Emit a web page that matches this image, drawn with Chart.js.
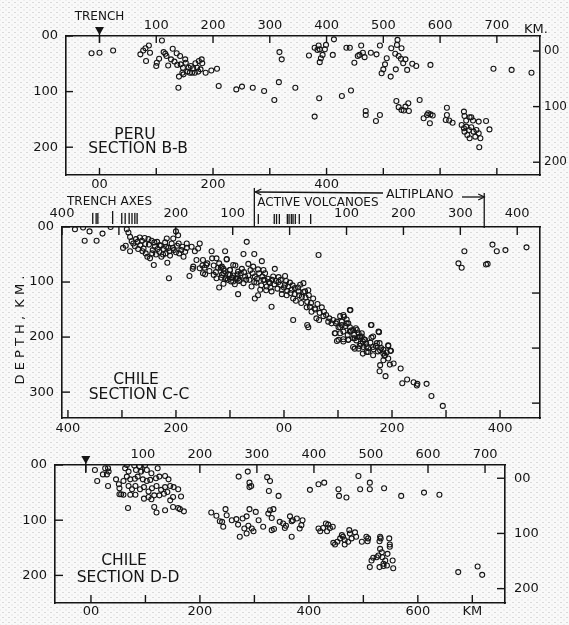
<!DOCTYPE html>
<html>
<head>
<meta charset="utf-8">
<script src="https://cdn.jsdelivr.net/npm/chart.js@4.4.1/dist/chart.umd.min.js"></script>
<style>
  html, body { margin: 0; padding: 0; }
  body {
    width: 569px; height: 625px; position: relative; overflow: hidden;
    background-color: #f9f9f9;
    background-image:
      radial-gradient(circle, #dadada 0.6px, transparent 0.9px),
      radial-gradient(circle, #e2e2e2 0.5px, transparent 0.8px);
    background-size: 6px 5px, 6px 5px;
    background-position: 0 0, 3px 2.5px;
  }
  canvas { position: absolute; left: 0; top: 0; }
</style>
</head>
<body>
<canvas id="peru" width="569" height="625"></canvas>
<canvas id="chileC" width="569" height="625"></canvas>
<canvas id="chileD" width="569" height="625"></canvas>
<script>
const INK = '#151515';
const FONT = 'DejaVu Sans';
const W = 569, H = 625;

// Peru, section B-B: [distance from trench, km ; depth, km]
const peruBB = [
  [-14,31],[0,30],[24,26],[72,33],[77,26],[81,22],[87,17],[89,30],[82,45],[100,54],
  [101,48],[105,41],[110,8],[113,29],[116,32],[118,36],[121,53],[129,23],[126,42],[132,46],
  [136,31],[137,52],[142,36],[143,51],[146,66],[151,42],[152,48],[140,73],[148,69],[155,64],
  [159,66],[163,66],[168,66],[161,54],[169,49],[172,57],[175,45],[180,42],[181,49],[178,60],
  [187,66],[197,62],[207,59],[139,93],[210,90],[241,96],[251,91],[270,93],[290,99],[308,115],
  [147,57],[157,57],[165,58],[174,64],
  [317,29],[321,42],[316,83],[345,93],[379,21],[386,17],[384,25],[388,24],[397,24],[399,16],
  [393,34],[388,47],[390,40],[369,35],[411,34],[413,6],[435,21],[441,21],[461,17],[458,34],
  [464,30],[467,38],[455,36],[449,48],[478,30],[488,33],[494,17],[506,40],[503,51],[500,60],
  [497,67],[513,73],[514,22],[524,16],[525,7],[532,22],[521,32],[527,36],[531,41],[535,49],
  [539,42],[522,60],[542,61],[551,50],[558,54],[583,52],[694,59],[726,61],[761,66],
  [387,112],[379,145],[427,108],[443,98],[469,135],[469,142],[487,153],[494,142],[523,117],[527,128],
  [532,133],[536,134],[539,127],[544,121],[545,135],[564,115],[571,148],[577,142],[579,139],[583,141],
  [587,143],[582,157],[612,129],[612,142],[610,151],[616,152],[622,156],[642,136],[643,144],[652,146],
  [655,146],[646,152],[658,152],[668,154],[681,153],[638,160],[642,166],[646,163],[651,169],[655,164],
  [659,172],[664,169],[668,175],[643,172],[648,178],[652,184],[662,181],[671,184],[687,168],[669,200]
];

// Chile, section C-C: [distance from volcanic line (bottom scale), km ; depth, km]
const chileCC = [
  [-387,4],[-372,1],[-360,8],[-336,12],[-369,25],[-347,25],[-321,0],[-291,4],[-288,10],[-285,18],
  [-298,38],[-293,34],[-285,44],[-279,30],[-274,22],[-271,27],[-267,19],[-266,33],[-263,25],[-260,39],
  [-257,31],[-256,48],[-253,54],[-251,22],[-248,57],[-245,25],[-243,42],[-239,36],[-237,50],[-235,27],
  [-231,45],[-230,33],[-227,54],[-223,40],[-220,28],[-217,21],[-219,48],[-214,38],[-211,52],[-208,30],
  [-205,21],[-204,42],[-200,8],[-196,15],[-198,34],[-194,48],[-190,42],[-186,54],[-183,45],
  [-241,69],[-216,65],[-213,93],[-175,89],[-180,38],[-171,36],[-165,44],[-159,39],[-156,30],[-162,60],
  [-168,72],[-169,76],[-156,75],[-151,70],[-147,74],[-144,69],[-150,84],[-146,86],[-134,44],[-133,57],
  [-125,57],[-106,58],[-130,87],[-125,93],[-120,110],[-117,74],[-112,76],[-107,93],[-103,86],[-98,99],
  [-94,88],[-91,104],[-89,93],[-85,81],[-83,98],[-122,74],[-115,87],[-100,78],[-112,103],
  [-69,27],[-109,44],[-75,49],[-55,49],[64,51],[-94,69],[-106,59],[-41,62],[-66,67],[-57,72],
  [-48,77],[-38,78],[-35,84],[-17,76],[-115,72],[-112,84],[-109,95],[-100,87],[-94,99],[-85,93],
  [-80,84],[-72,90],[-75,102],[-64,96],[-60,108],[-54,90],[-51,101],[-44,114],[-85,122],[-54,130],
  [-48,124],[-38,96],[-32,108],[-26,102],[-23,117],[-20,90],[-10,91],[-7,105],[-4,114],[2,89],
  [2,105],[-23,145],[5,124],[11,101],[14,114],[17,130],[20,111],[27,117],[30,105],[33,127],
  [36,102],[39,117],[45,115],[43,136],[48,145],[17,169],[51,154],[57,148],[60,166],[65,169],
  [43,178],[45,182],[73,162],[82,172],[91,169],[96,175],[101,182],[107,172],[111,163],[116,175],
  [122,151],[122,182],[128,187],[133,184],[138,193],[144,199],[94,193],[101,205],[110,204],[119,205],
  [128,202],[146,208],[140,216],[153,217],[162,178],[165,199],[175,190],[177,211],[184,223],[193,216],
  [197,225],[187,233],[165,233],[156,227],[146,230],[131,221],
  [123,151],[110,160],[104,162],[116,168],[98,172],[88,175],[107,178],[119,175],[161,178],[176,191],
  [95,193],[104,193],[122,190],[135,187],[144,193],[98,207],[110,208],[119,205],[131,202],[141,199],
  [150,205],[162,201],[128,218],[138,221],[147,218],[153,227],[165,218],[172,211],[178,224],[184,230],
  [193,215],[198,225],[193,239],[184,242],[203,248],[178,251],[196,250],[216,257],[177,262],[188,271],
  [219,284],[228,277],[240,282],[247,285],[246,288],[264,285],[273,307],[294,325],
  [334,44],[386,32],[394,44],[410,42],[449,37],[323,66],[329,74],[374,68],[377,67],
  [-282,26],[-276,35],[-270,40],[-262,44],[-258,20],[-250,32],[-244,48],[-240,28],[-234,40],[-228,34],
  [-224,50],[-218,36],[-212,44],[-206,38],[-200,46],[-195,30],[-188,36],[-180,30],
  [-150,60],[-142,66],[-138,80],[-130,70],[-126,82],[-120,66],[-116,92],[-110,80],[-104,96],
  [-100,78],[-96,92],[-90,70],[-86,86],[-82,96],[-78,76],[-74,82],[-70,96],[-66,88],[-62,78],
  [-58,84],[-55,100],[-50,94],[-46,84],[-42,106],[-40,90],[-36,96],[-33,115],[-30,94],[-28,100],
  [-25,110],[-22,96],[-18,104],[-15,98],[-12,112],[-10,100],[-6,96],[-4,122],[0,110],[4,98],
  [6,116],[8,108],[12,120],[16,106],[20,122],[22,134],[26,110],[28,124],[32,138],[36,118],
  [40,128],[42,146],[46,124],[50,138],[54,130],[58,150],[62,140],[66,156],[70,146],[74,154],
  [78,160],[84,166],
  [104,182],[110,190],[114,180],[118,196],[124,188],[130,196],[134,206],[138,200],[142,212],[148,204],
  [152,212],[156,220],[160,210],[166,222],[170,216],[174,226],[180,220],[186,234],[190,228]
];

// Chile, section D-D: [distance from trench, km ; depth, km]
const chileDD = [
  [16,9],[20,29],[34,6],[39,6],[30,17],[37,17],[40,12],[39,38],[58,35],[53,26],
  [59,42],[62,53],[66,29],[72,21],[69,6],[72,0],[85,1],[94,2],[104,0],[75,12],
  [88,9],[97,12],[107,9],[115,15],[126,6],[78,26],[86,25],[91,21],[100,26],[107,29],
  [113,27],[123,24],[129,21],[139,20],[145,26],[75,38],[81,44],[87,38],[95,44],[102,40],
  [110,48],[116,42],[124,38],[132,45],[139,40],[148,38],[154,40],[162,44],[167,57],[59,53],
  [66,54],[78,54],[87,54],[102,61],[110,58],[115,62],[120,55],[129,55],[137,52],[143,49],
  [153,58],[148,64],
  [74,78],[120,76],[124,86],[139,82],[153,76],[162,78],[172,84],[165,80],[220,86],[229,92],
  [245,80],[247,91],[239,103],[235,102],[241,112],[256,100],[264,98],[267,108],[275,97],[282,93],
  [278,115],[285,110],[291,115],[294,120],[270,130],[282,124],[287,80],[298,85],[303,100],
  [320,88],[323,82],[329,80],[326,96],[311,112],[326,118],[330,116],[340,103],[346,106],[351,110],
  [349,114],[358,93],[363,100],[370,97],[361,102],[380,100],[378,109],[375,115],[361,130],[408,115],
  [411,120],[416,114],[421,106],[425,108],[428,114],[433,112],[423,120],[434,141],[437,144],[441,139],
  [446,133],[451,130],[454,136],[449,127],[462,118],[463,124],[472,122],[474,130],[466,133],[460,139],
  [454,144],[484,139],[494,138],[492,130],[495,133],[516,130],[517,133],[515,138],[532,133],[533,144],
  [516,152],[519,158],[513,164],[520,167],[510,167],[504,168],[501,173],[498,185],[515,185],[522,179],
  [525,173],[522,183],[528,182],[529,161],[538,173],[539,187],[533,148],[653,194],[687,184],[695,199],
  [268,21],[284,12],[287,32],[290,38],[287,40],[318,22],[323,29],[321,47],[338,56],[393,45],
  [408,35],[418,32],[443,44],[444,56],[457,59],[478,20],[481,44],[498,32],[498,44],[523,42],
  [553,56],[593,50],[620,54]
];

// trench axes and active volcanoes, on the upper C-C scale (km)
const trenchAxesKm = [-346, -340, -337, -311, -295, -289, -282, -277, -272, -268];
const volcanoKm = [-55, -27, -23, -18, -4, -1, 3, 6, 10, 17, 37];
const volcanicFrontKm = -62;
const altiplanoEdgeKm = 342;

const hundreds = (a, b) => { const t = []; for (let v = a; v <= b; v += 100) t.push(v); return t; };
const num = v => v === 0 ? '00' : String(Math.abs(v));

function axis(position, s, size) {
  const horiz = position === 'top' || position === 'bottom';
  return {
    type: 'linear', position, min: s.min, max: s.max, reverse: !horiz,
    grid: { display: false, drawTicks: false },
    border: { display: true, color: INK, width: 1.6 },
    ticks: {
      autoSkip: false, maxRotation: 0, minRotation: 0,
      padding: s.pad, color: INK,
      font: { family: FONT, size: s.font || 13 },
      callback: v => (s.labels || []).includes(v) ? (s.name ? s.name(v) : num(v)) : ''
    },
    afterBuildTicks: sc => { sc.ticks = s.ticks.map(v => ({ value: v })); },
    afterFit: sc => {
      if (horiz) sc.height = size; else sc.width = size;
      sc.paddingLeft = sc.paddingRight = sc.paddingTop = sc.paddingBottom = 0;
    }
  };
}

function innerTicks(len) {
  return {
    id: 'innerTicks',
    afterDraw(chart) {
      const { ctx, chartArea: a } = chart;
      ctx.save();
      ctx.strokeStyle = INK; ctx.lineWidth = 1.4;
      Object.values(chart.scales).forEach(s => {
        s.ticks.forEach(t => {
          const p = s.getPixelForValue(t.value);
          ctx.beginPath();
          if (s.position === 'top') { ctx.moveTo(p, a.top); ctx.lineTo(p, a.top + len); }
          else if (s.position === 'bottom') { ctx.moveTo(p, a.bottom); ctx.lineTo(p, a.bottom - len); }
          else if (s.position === 'left') { ctx.moveTo(a.left, p); ctx.lineTo(a.left + len, p); }
          else { ctx.moveTo(a.right, p); ctx.lineTo(a.right - len, p); }
          ctx.stroke();
        });
      });
      ctx.restore();
    }
  };
}

function label(ctx, s, x, y, size, align) {
  ctx.font = size + 'px ' + FONT;
  ctx.textAlign = align || 'center';
  ctx.textBaseline = 'middle';
  ctx.fillText(s, x, y);
}

function trenchMark(ctx, x, tip) {
  ctx.beginPath();
  ctx.moveTo(x - 4.5, tip - 8); ctx.lineTo(x + 4.5, tip - 8); ctx.lineTo(x, tip);
  ctx.closePath(); ctx.fill();
  ctx.beginPath(); ctx.moveTo(x, tip - 4); ctx.lineTo(x, tip + 8); ctx.stroke();
}

function arrowHead(ctx, x, y, dir) {
  ctx.beginPath();
  ctx.moveTo(x - dir * 6, y - 3); ctx.lineTo(x, y); ctx.lineTo(x - dir * 6, y + 3);
  ctx.stroke();
}

function section(id, p) {
  const a = p.area;
  return new Chart(document.getElementById(id), {
    type: 'scatter',
    data: {
      datasets: [{
        data: p.points.map(([k, d]) => ({ x: k, y: d })),
        xAxisID: p.xAxis, yAxisID: 'y',
        pointStyle: 'circle', pointRadius: 2.5, borderWidth: 1.1,
        borderColor: INK, backgroundColor: 'rgba(255,255,255,0)'
      }]
    },
    options: {
      responsive: false, animation: false, events: [],
      layout: { padding: 0 },
      plugins: { legend: { display: false }, tooltip: { enabled: false } },
      scales: {
        x: axis('bottom', p.x, H - a.bottom),
        x2: axis('top', p.x2, a.top),
        y: axis('left', p.y, a.left),
        y2: axis('right', p.y2, W - a.right)
      }
    },
    plugins: [innerTicks(p.tick), {
      id: 'extras',
      afterDraw(chart) {
        const ctx = chart.ctx;
        ctx.save();
        ctx.fillStyle = INK; ctx.strokeStyle = INK; ctx.lineWidth = 1.3;
        p.extras(chart, ctx);
        ctx.restore();
      }
    }]
  });
}

// Peru B-B
section('peru', {
  points: peruBB, xAxis: 'x2', tick: 7,
  area: { left: 66, top: 36, right: 540, bottom: 175 },
  x2: { min: -59, max: 776, ticks: hundreds(0, 700), labels: hundreds(100, 700), pad: 3 },
  x:  { min: -59, max: 776, ticks: hundreds(0, 700), labels: [0, 200, 400], pad: 2 },
  y:  { min: 0, max: 250, ticks: [0, 100, 200], labels: [0, 100, 200], pad: 8 },
  y2: { min: -27, max: 223, ticks: [0, 100, 200], labels: [0, 100, 200], pad: 4, font: 12 },
  extras(chart, ctx) {
    const x0 = chart.scales.x2.getPixelForValue(0);
    trenchMark(ctx, x0, chart.chartArea.top - 1);
    label(ctx, 'TRENCH', x0, 17, 12);
    label(ctx, 'KM.', 524, 30, 13, 'left');
    label(ctx, 'PERU', 135, 135, 15.5);
    label(ctx, 'SECTION B-B', 138, 149, 15.5);
  }
});

// Chile C-C
section('chileC', {
  points: chileCC, xAxis: 'x', tick: 8,
  area: { left: 62, top: 227, right: 540, bottom: 418 },
  x2: { min: -400, max: 440, ticks: hundreds(-400, 400), labels: [-400, -200, -100, 100, 200, 300, 400], pad: 6 },
  x:  { min: -411, max: 474, ticks: hundreds(-400, 400), labels: [-400, -200, 0, 200, 400], pad: 3 },
  y:  { min: 0, max: 347, ticks: [0, 100, 200, 300], labels: [0, 100, 200, 300], pad: 8 },
  y2: { min: -20, max: 327, ticks: [100, 200, 300], labels: [], pad: 4 },
  extras(chart, ctx) {
    const top = chart.chartArea.top;
    const px = v => chart.scales.x2.getPixelForValue(v);
    trenchAxesKm.forEach((k, i) => {
      ctx.beginPath(); ctx.moveTo(px(k), top - (i === 3 ? 16 : 14)); ctx.lineTo(px(k), top - 3); ctx.stroke();
    });
    volcanoKm.forEach(k => {
      ctx.beginPath(); ctx.moveTo(px(k), top - 13); ctx.lineTo(px(k), top - 3); ctx.stroke();
    });
    const xv = px(volcanicFrontKm), xa = px(altiplanoEdgeKm);
    ctx.beginPath(); ctx.moveTo(xv, 188); ctx.lineTo(xv, top); ctx.stroke();
    ctx.beginPath(); ctx.moveTo(xv + 1, 192); ctx.lineTo(383, 193); ctx.stroke();
    arrowHead(ctx, xv + 1, 192, -1);
    ctx.beginPath(); ctx.moveTo(462, 197); ctx.lineTo(xa, 197); ctx.stroke();
    arrowHead(ctx, xa, 197, 1);
    ctx.beginPath(); ctx.moveTo(xa, 193); ctx.lineTo(xa, top + 1); ctx.stroke();
    label(ctx, 'TRENCH AXES', 67, 202, 12, 'left');
    label(ctx, 'ACTIVE VOLCANOES', xv + 3, 203, 12, 'left');
    label(ctx, 'ALTIPLANO', 386, 195, 12.5, 'left');
    label(ctx, 'CHILE', 136, 380, 15.5);
    label(ctx, 'SECTION C-C', 139, 395, 15.5);
    ctx.save();
    ctx.translate(21, 330); ctx.rotate(-Math.PI / 2);
    label(ctx, 'D E P T H ,  K M .', 0, 0, 13);
    ctx.restore();
  }
});

// Chile D-D
section('chileD', {
  points: chileDD, xAxis: 'x2', tick: 8,
  area: { left: 55, top: 465, right: 505, bottom: 603 },
  x2: { min: -54, max: 735, ticks: hundreds(0, 700), labels: hundreds(100, 700), pad: 3 },
  x:  { min: -66, max: 760, ticks: hundreds(0, 700), labels: [0, 200, 400, 600, 700], pad: 1,
        name: v => v === 700 ? 'KM' : num(v) },
  y:  { min: 0, max: 250, ticks: [0, 100, 200], labels: [0, 100, 200], pad: 8 },
  y2: { min: -24, max: 226, ticks: [0, 100, 200], labels: [0, 100, 200], pad: 9 },
  extras(chart, ctx) {
    const x0 = chart.scales.x2.getPixelForValue(0);
    trenchMark(ctx, x0, chart.chartArea.top - 1);
    label(ctx, 'CHILE', 124, 561, 15.5);
    label(ctx, 'SECTION D-D', 128, 578, 15.5);
  }
});
</script>
</body>
</html>
